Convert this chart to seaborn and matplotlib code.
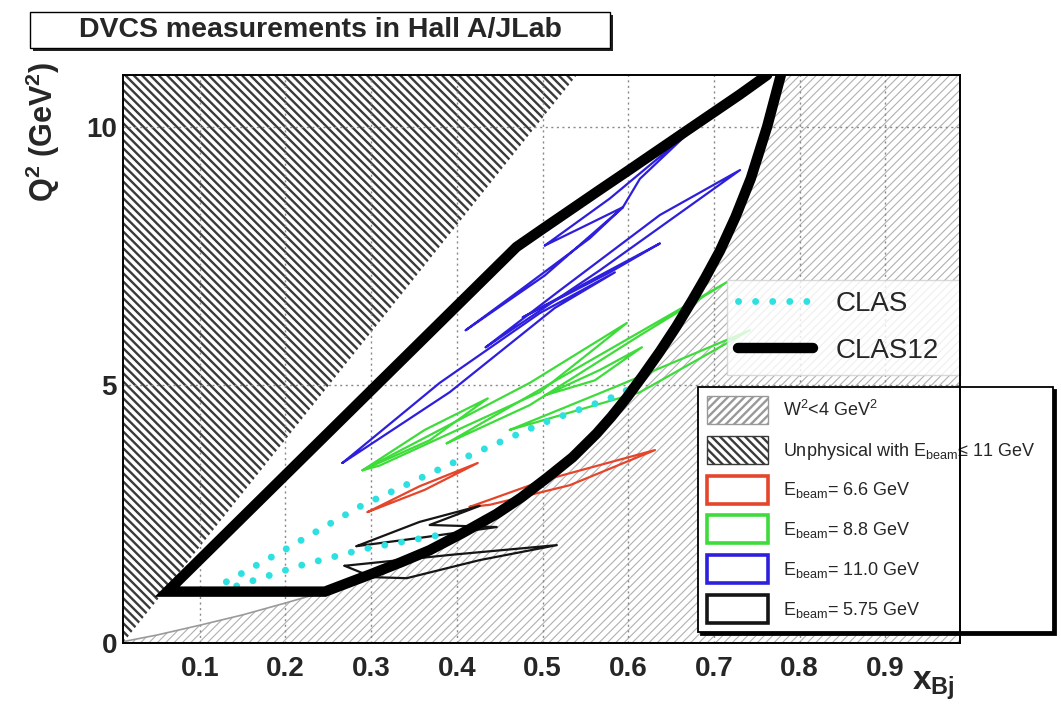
import numpy as np
import pandas as pd
import matplotlib
matplotlib.use("Agg")
import matplotlib.pyplot as plt
import seaborn as sns
from matplotlib.patches import Patch, Rectangle, Polygon
from matplotlib.lines import Line2D
from matplotlib.ticker import MultipleLocator, FixedLocator

# ---------------- data ----------------
x_range = (0.01, 0.987)
q2_range = (0.0, 11.0)
x_ticks = [0.1, 0.2, 0.3, 0.4, 0.5, 0.6, 0.7, 0.8, 0.9]
x_ticklabels = ["0.1", "0.2", "0.3", "0.4", "0.5", "0.6", "0.7", "0.8", "0.9"]
q2_ticks = [0, 5, 10]
q2_ticklabels = ["0", "5", "10"]

# W^2 = 4 GeV^2 boundary (lower-right region)
w2_x = [0.01, 0.05, 0.10, 0.15, 0.20, 0.246, 0.30, 0.335, 0.368, 0.405, 0.446,
        0.475, 0.505, 0.535, 0.563, 0.58, 0.598, 0.617, 0.637, 0.656, 0.675,
        0.69, 0.707, 0.725, 0.743, 0.762, 0.778]
w2_q2 = [0.03, 0.16, 0.35, 0.55, 0.78, 1.0, 1.34, 1.57, 1.80, 2.12, 2.50,
         2.82, 3.2, 3.6, 4.06, 4.38, 4.75, 5.18, 5.65, 6.13, 6.65,
         7.08, 7.6, 8.25, 9.0, 10.0, 11.0]

# Unphysical boundary (upper-left region) for E_beam <= 11 GeV
unphys_x = [0.01, 0.54]
unphys_q2 = [0.0, 11.0]

# CLAS12 acceptance outline: upper edge (top -> left corner), then bottom edge
clas12_upper_x = [0.762, 0.730, 0.668, 0.600, 0.567, 0.500, 0.4695, 0.062]
clas12_upper_q2 = [11.0, 10.62, 9.92, 9.15, 8.78, 8.02, 7.67, 1.0]
clas12_lower_x = [0.062, 0.246]
clas12_lower_q2 = [1.0, 1.0]

# CLAS acceptance (dotted): upper and lower edges
clas_upper_x = [0.131, 0.199, 0.286, 0.395, 0.500, 0.594, 0.598]
clas_upper_q2 = [1.19, 1.81, 2.64, 3.49, 4.26, 4.84, 4.90]
clas_lower_x = [0.143, 0.216, 0.290, 0.368, 0.391]
clas_lower_q2 = [1.11, 1.50, 1.82, 2.06, 2.13]

# Hall A kinematic settings (closed loops)
blue_loops_x = [
    [0.5026, 0.5785, 0.6696, 0.6135, 0.5937, 0.5434],
    [0.4103, 0.5026, 0.5937, 0.5551, 0.4734],
    [0.4336, 0.5668, 0.7304, 0.6369, 0.5201],
    [0.4769, 0.5668, 0.6369, 0.5785],
    [0.2664, 0.3799, 0.4967, 0.5843, 0.5142, 0.3916],
]
blue_loops_q2 = [
    [7.70, 8.61, 9.87, 8.99, 8.44, 8.03],
    [6.06, 7.12, 8.44, 7.84, 6.83],
    [5.73, 7.22, 9.16, 8.29, 6.83],
    [6.31, 7.12, 7.74, 7.18],
    [3.49, 5.04, 6.39, 7.18, 6.49, 4.86],
]
green_loops_x = [
    [0.290, 0.3624, 0.4360, 0.3683],
    [0.290, 0.4850, 0.5983, 0.4967, 0.3098],
    [0.3881, 0.5668, 0.7150, 0.6136, 0.4850],
    [0.4617, 0.5902, 0.7418, 0.6136],
    [0.5026, 0.5668, 0.6159, 0.5610],
]
green_loops_q2 = [
    [3.35, 4.13, 4.74, 3.93],
    [3.35, 5.04, 6.20, 4.86, 3.44],
    [3.87, 5.58, 6.99, 5.96, 4.61],
    [4.13, 5.00, 6.06, 4.86],
    [4.80, 5.29, 5.73, 5.09],
]
red_loops_x = [
    [0.2958, 0.3565, 0.4243, 0.3624],
    [0.4149, 0.5026, 0.6311, 0.5318, 0.4383],
]
red_loops_q2 = [
    [2.54, 3.04, 3.49, 2.97],
    [2.64, 3.16, 3.74, 3.06, 2.68],
]
black_loops_x = [
    [0.2829, 0.3565, 0.4266, 0.3682, 0.4465, 0.3565],
    [0.2689, 0.3916, 0.5166, 0.4266, 0.3414, 0.3017],
]
black_loops_q2 = [
    [1.88, 2.35, 2.66, 2.29, 2.25, 2.04],
    [1.50, 1.71, 1.90, 1.61, 1.26, 1.28],
]

beam_labels = ["6.6", "8.8", "11.0", "5.75"]
beam_colors = {"6.6": "#e5452a", "8.8": "#3ddc3a", "11.0": "#2d1fdc", "5.75": "#151515"}
clas_color = "#2fe0e0"

# ---------------- style ----------------
sns.set_theme(style="white")
plt.rcParams["font.family"] = ["Liberation Sans", "DejaVu Sans"]
plt.rcParams["mathtext.fontset"] = "custom"
plt.rcParams["mathtext.rm"] = "Liberation Sans"
plt.rcParams["mathtext.bf"] = "Liberation Sans:bold"
plt.rcParams["mathtext.it"] = "Liberation Sans:italic"

fig = plt.figure(figsize=(10.61, 7.12), dpi=100)
ax = fig.add_axes([0.1156, 0.0965, 0.7892, 0.7982])
ax.set_xlim(*x_range)
ax.set_ylim(*q2_range)

LIGHT_HATCH = "////"
DARK_HATCH = "\\\\\\\\"


def hatch_patch(verts, color, hatch, hlw, z):
    plt.rcParams["hatch.linewidth"] = hlw
    p = Polygon(verts, closed=True, facecolor="white", edgecolor=color,
                hatch=hatch, lw=0, zorder=z)
    if hasattr(p, "set_hatch_linewidth"):
        p.set_hatch_linewidth(hlw)
    return p


# W^2 < 4 region (light hatch)
w2_verts = np.column_stack([
    np.r_[w2_x, x_range[1], x_range[1], w2_x[0]],
    np.r_[w2_q2, q2_range[1], q2_range[0], q2_range[0]],
])
ax.add_patch(hatch_patch(w2_verts, "#b0b0b0", LIGHT_HATCH, 0.8, 1.0))

# Unphysical region (dark hatch)
un_verts = np.column_stack([
    np.r_[unphys_x[0], unphys_x[1], unphys_x[0]],
    np.r_[unphys_q2[0], unphys_q2[1], unphys_q2[1]],
])
ax.add_patch(hatch_patch(un_verts, "#3a3a3a", DARK_HATCH, 1.7, 1.05))

# boundary of W^2 region (thin grey)
sns.lineplot(x=w2_x, y=w2_q2, sort=False, estimator=None, color="#9a9a9a",
             lw=1.2, ax=ax, zorder=1.8)

# kinematic loops
rows = []
for beam, xs_list, qs_list in [("6.6", red_loops_x, red_loops_q2),
                               ("8.8", green_loops_x, green_loops_q2),
                               ("11.0", blue_loops_x, blue_loops_q2),
                               ("5.75", black_loops_x, black_loops_q2)]:
    for i, (xs, qs) in enumerate(zip(xs_list, qs_list)):
        xs_c = list(xs) + [xs[0]]
        qs_c = list(qs) + [qs[0]]
        for j, (xv, qv) in enumerate(zip(xs_c, qs_c)):
            rows.append({"beam": beam, "loop": f"{beam}_{i}", "order": j,
                         "x": xv, "q2": qv})
loops = pd.DataFrame(rows)
sns.lineplot(data=loops, x="x", y="q2", hue="beam", units="loop",
             estimator=None, sort=False, palette=beam_colors, lw=1.6,
             legend=False, ax=ax, zorder=2.0)

# CLAS (dotted cyan)
clas_ls = (0, (0.01, 2.45))
for xs, qs in [(clas_upper_x, clas_upper_q2), (clas_lower_x, clas_lower_q2)]:
    sns.lineplot(x=xs, y=qs, sort=False, estimator=None, color=clas_color,
                 lw=5, linestyle=clas_ls, dash_capstyle="round", ax=ax,
                 zorder=2.1)

# CLAS12 (thick black)
right_idx = w2_x.index(clas12_lower_x[-1])
c12_x = clas12_upper_x + clas12_lower_x[1:] + w2_x[right_idx + 1:]
c12_q2 = clas12_upper_q2 + clas12_lower_q2[1:] + w2_q2[right_idx + 1:]
sns.lineplot(x=c12_x, y=c12_q2, sort=False, estimator=None, color="black",
             lw=7.5, solid_joinstyle="miter", ax=ax, zorder=2.2)

# ---------------- axes styling ----------------
ax.set_axisbelow("line")
ax.grid(True, which="major", linestyle=(0, (1.5, 2.5)), color="#8a8a8a", lw=1.0)
ax.xaxis.set_major_locator(FixedLocator(x_ticks))
ax.set_xticklabels(x_ticklabels)
ax.yaxis.set_major_locator(FixedLocator(q2_ticks))
ax.set_yticklabels(q2_ticklabels)
ax.xaxis.set_minor_locator(MultipleLocator(0.02))
ax.yaxis.set_minor_locator(MultipleLocator(1.0))
ax.tick_params(which="both", direction="in", color="black", top=False, right=False)
ax.tick_params(which="major", length=10, width=1.0)
ax.tick_params(which="minor", length=5, width=0.8)
ax.tick_params(axis="x", which="major", pad=9, labelsize=20)
ax.tick_params(axis="y", which="major", pad=4, labelsize=20)
for lab in ax.get_xticklabels() + ax.get_yticklabels():
    lab.set_fontweight("bold")
for sp in ax.spines.values():
    sp.set_color("black")
    sp.set_linewidth(1.4)
    sp.set_zorder(3)

ax.set_ylabel(r"Q$^{\mathbf{2}}$ (GeV$^{\mathbf{2}}$)", fontsize=22, fontweight="bold")
ax.yaxis.set_label_coords(-0.095, 0.9)
ax.yaxis.label.set_verticalalignment("center")
ax.set_xlabel(r"$\mathbf{x}_{\mathbf{Bj}}$", fontsize=24)
ax.xaxis.set_label_coords(0.968, -0.075)
ax.xaxis.label.set_verticalalignment("center")

# ---------------- legends ----------------
h_clas = Line2D([], [], color=clas_color, lw=5, linestyle=clas_ls,
                dash_capstyle="round")
h_clas12 = Line2D([], [], color="black", lw=7.5)
l1_top = 1 - 280 / 712
leg1 = ax.legend([h_clas, h_clas12], ["CLAS", "CLAS12"], loc="upper left",
                 bbox_to_anchor=(727 / 1061, l1_top - 0.1, (960 - 727) / 1061, 0.1),
                 bbox_transform=fig.transFigure, mode="expand", fontsize=20,
                 frameon=True, fancybox=False, framealpha=0.8, edgecolor="#d0d0d0",
                 handlelength=2.7, borderpad=0.4, labelspacing=0.75,
                 handletextpad=0.8, borderaxespad=0)
leg1.set_zorder(2.4)
ax.add_artist(leg1)

handles2 = [
    Patch(facecolor="white", edgecolor="#999999", hatch=LIGHT_HATCH, lw=1.0),
    Patch(facecolor="white", edgecolor="#3a3a3a", hatch=DARK_HATCH, lw=1.0),
] + [Patch(facecolor="white", edgecolor=beam_colors[b], lw=2.6) for b in beam_labels]
labels2 = [r"W$^{2}$<4 GeV$^{2}$",
           r"Unphysical with E$_{\mathrm{beam}}$≤ 11 GeV"] + \
          [r"E$_{\mathrm{beam}}$= " + f"{b} GeV" for b in beam_labels]
l2_top = 1 - 387 / 712
leg2 = ax.legend(handles2, labels2, loc="upper left",
                 bbox_to_anchor=(698 / 1061, l2_top - 0.1, (1053 - 698) / 1061, 0.1),
                 bbox_transform=fig.transFigure, mode="expand", fontsize=13,
                 frameon=True, fancybox=False, framealpha=1.0, edgecolor="black",
                 handlelength=3.4, handleheight=2.0, borderpad=0.5,
                 labelspacing=0.66, handletextpad=0.8, borderaxespad=0,
                 shadow={"color": "black", "alpha": 1.0})
leg2.get_frame().set_linewidth(1.3)
leg2.set_zorder(2.4)

# ---------------- title box ----------------
tx0, ty0, tw, th = 30 / 1061, 1 - 48 / 712, 580 / 1061, 36 / 712
fig.add_artist(Rectangle((tx0 + 3 / 1061, ty0 - 3 / 712), tw, th,
                         transform=fig.transFigure, facecolor="#222222",
                         edgecolor="none", zorder=0))
fig.add_artist(Rectangle((tx0, ty0), tw, th, transform=fig.transFigure,
                         facecolor="white", edgecolor="black", lw=1.0, zorder=1))
fig.text(tx0 + tw / 2, ty0 + th / 2, "DVCS measurements in Hall A/JLab",
         ha="center", va="center", fontsize=20.5, fontweight="bold", zorder=2)

fig.savefig("out.png", dpi=100)
